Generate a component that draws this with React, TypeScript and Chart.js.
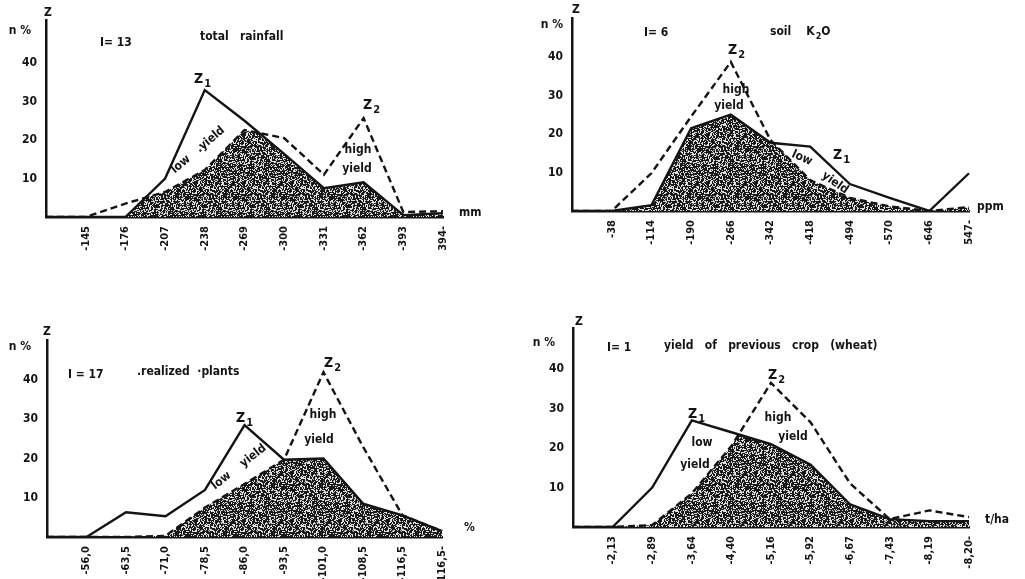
import React, { useEffect, useRef } from 'react';
import { Chart, registerables } from 'chart.js';
Chart.register(...registerables);

// ---------- Data ----------
const yTicks = [10, 20, 30, 40];

// Panel 1: total rainfall (mm)
const rainLabels = ['', '-145', '-176', '-207', '-238', '-269', '-300', '-331', '-362', '-393', '394-'];
const rainLowYield = [0, 0, 0, 10, 33, 25, 16.4, 7.5, 9, 0.5, 1];
const rainHighYield = [0, 0, 3.5, 6.5, 12.2, 22.6, 20.5, 11, 25.7, 1.3, 1.5];

// Panel 2: soil K2O (ppm)
const k2oLabels = ['', '-38', '-114', '-190', '-266', '-342', '-418', '-494', '-570', '-646', '547-'];
const k2oLowYield = [0, 0, 1.5, 21.5, 25, 17.7, 16.7, 7, 3.4, 0, 9.8];
const k2oHighYield = [0, 0, 9.8, 24.5, 38.7, 18.4, 8, 3.4, 1.2, 0, 1];

// Panel 3: realized plants (%)
const plantLabels = ['', '-56,0', '-63,5', '-71,0', '-78,5', '-86,0', '-93,5', '-101,0', '-108,5', '-116,5', '116,5-'];
const plantLowYield = [0, 0, 6.3, 5.3, 12, 28.5, 19.7, 20, 8.5, 5.5, 1.5];
const plantHighYield = [0, 0, 0, 0.3, 7.5, 13.5, 19.7, 42, 23, 5.5, 1.5];

// Panel 4: yield of previous crop (wheat) (t/ha)
const wheatLabels = ['', '-2,13', '-2,89', '-3,64', '-4,40', '-5,16', '-5,92', '-6,67', '-7,43', '-8,19', '-8,20-'];
const wheatLowYield = [0, 0, 10, 27, 24, 21, 15.8, 5.7, 2, 1.5, 1.5];
const wheatHighYield = [0, 0, 0.5, 8.5, 20.5, 36.5, 26.5, 11, 2, 4.2, 2.5];

// ---------- Styling / layout ----------
const FONT = '"DejaVu Sans Condensed", "DejaVu Sans", sans-serif';
const INK = '#141414';

type Txt = { t: string; x: number; y: number; sub?: string; rest?: string; rot?: number; align?: 'left' | 'center'; size?: number };
type Panel = {
  left: number; top: number; w: number; h: number;
  area: { left: number; top: number; right: number; bottom: number };
  yMax: number;
  labels: string[]; z1: number[]; z2: number[];
  texts: Txt[];
};

const panels: Panel[] = [
  {
    left: 0, top: 0, w: 512, h: 290,
    area: { left: 46, top: 20, right: 443, bottom: 217 }, yMax: 51.2,
    labels: rainLabels, z1: rainLowYield, z2: rainHighYield,
    texts: [
      { t: 'n %', x: 20, y: 31, align: 'center', size: 12 },
      { t: 'Z', x: 48, y: 13, align: 'center', size: 12 },
      { t: 'I= 13', x: 100, y: 43, size: 12 },
      { t: 'total   rainfall', x: 200, y: 37, size: 12 },
      { t: 'Z', sub: '1', x: 194, y: 79, size: 14 },
      { t: 'Z', sub: '2', x: 363, y: 105, size: 14 },
      { t: 'low   .yield', x: 198, y: 150, rot: -40, align: 'center', size: 12 },
      { t: 'high', x: 358, y: 150, align: 'center', size: 12 },
      { t: 'yield', x: 357, y: 169, align: 'center', size: 12 },
      { t: 'mm', x: 459, y: 213, size: 12 },
    ],
  },
  {
    left: 512, top: 0, w: 513, h: 290,
    area: { left: 60, top: 18, right: 457, bottom: 211 }, yMax: 50.1,
    labels: k2oLabels, z1: k2oLowYield, z2: k2oHighYield,
    texts: [
      { t: 'n %', x: 40, y: 25, align: 'center', size: 12 },
      { t: 'Z', x: 64, y: 10, align: 'center', size: 12 },
      { t: 'I= 6', x: 132, y: 33, size: 12 },
      { t: 'soil    K', sub: '2', rest: 'O', x: 258, y: 32, size: 12 },
      { t: 'Z', sub: '2', x: 216, y: 50, size: 14 },
      { t: 'high', x: 224, y: 90, align: 'center', size: 12 },
      { t: 'yield', x: 217, y: 106, align: 'center', size: 12 },
      { t: 'Z', sub: '1', x: 321, y: 155, size: 14 },
      { t: 'low', x: 290, y: 158, rot: 25, align: 'center', size: 12 },
      { t: 'yield', x: 323, y: 183, rot: 35, align: 'center', size: 12 },
      { t: 'ppm', x: 465, y: 207, size: 12 },
    ],
  },
  {
    left: 0, top: 290, w: 512, h: 289,
    area: { left: 47, top: 50, right: 442, bottom: 247 }, yMax: 50.2,
    labels: plantLabels, z1: plantLowYield, z2: plantHighYield,
    texts: [
      { t: 'n %', x: 20, y: 57, align: 'center', size: 12 },
      { t: 'Z', x: 47, y: 42, align: 'center', size: 12 },
      { t: 'I = 17', x: 68, y: 85, size: 12 },
      { t: '.realized  ·plants', x: 137, y: 82, size: 12 },
      { t: 'Z', sub: '1', x: 236, y: 128, size: 14 },
      { t: 'Z', sub: '2', x: 324, y: 73, size: 14 },
      { t: 'high', x: 323, y: 125, align: 'center', size: 12 },
      { t: 'yield', x: 319, y: 150, align: 'center', size: 12 },
      { t: 'low    yield', x: 239, y: 177, rot: -38, align: 'center', size: 12 },
      { t: '%', x: 464, y: 238, size: 12 },
    ],
  },
  {
    left: 512, top: 290, w: 513, h: 289,
    area: { left: 61, top: 38, right: 457, bottom: 237 }, yMax: 50.4,
    labels: wheatLabels, z1: wheatLowYield, z2: wheatHighYield,
    texts: [
      { t: 'n %', x: 32, y: 53, align: 'center', size: 12 },
      { t: 'Z', x: 67, y: 32, align: 'center', size: 12 },
      { t: 'I= 1', x: 95, y: 58, size: 12 },
      { t: 'yield   of   previous   crop   (wheat)', x: 152, y: 56, size: 12 },
      { t: 'Z', sub: '1', x: 176, y: 124, size: 14 },
      { t: 'Z', sub: '2', x: 256, y: 85, size: 14 },
      { t: 'high', x: 266, y: 128, align: 'center', size: 12 },
      { t: 'yield', x: 281, y: 147, align: 'center', size: 12 },
      { t: 'low', x: 190, y: 153, align: 'center', size: 12 },
      { t: 'yield', x: 183, y: 175, align: 'center', size: 12 },
      { t: 't/ha', x: 473, y: 230, size: 12 },
    ],
  },
];

// ---------- Helpers ----------
function makeStipple(ctx: CanvasRenderingContext2D): CanvasPattern | string {
  const N = 48;
  const c = document.createElement('canvas');
  c.width = N; c.height = N;
  const g = c.getContext('2d');
  if (!g) return '#333';
  const img = g.createImageData(N, N);
  for (let j = 0; j < N; j++) {
    for (let i = 0; i < N; i++) {
      let h = Math.imul(i + 1, 374761393) ^ Math.imul(j + 7, 668265263);
      h = Math.imul(h ^ (h >>> 13), 1274126177);
      h = (h ^ (h >>> 16)) >>> 0;
      const light = (h % 100) < 34;
      const v = light ? 225 : 25;
      const k = (j * N + i) * 4;
      img.data[k] = v; img.data[k + 1] = v; img.data[k + 2] = v; img.data[k + 3] = 255;
    }
  }
  g.putImageData(img, 0, 0);
  return ctx.createPattern(c, 'repeat') || '#333';
}

function drawTexts(ctx: CanvasRenderingContext2D, items: Txt[]) {
  ctx.save();
  ctx.fillStyle = INK;
  ctx.textBaseline = 'middle';
  ctx.textAlign = 'left';
  for (const it of items) {
    const size = it.size ?? 11;
    const main = `bold ${size}px ${FONT}`;
    const small = `bold ${Math.round(size * 0.75)}px ${FONT}`;
    ctx.save();
    ctx.translate(it.x, it.y);
    if (it.rot) ctx.rotate((it.rot * Math.PI) / 180);
    ctx.font = main;
    const w1 = ctx.measureText(it.t).width;
    let ws = 0, wr = 0;
    if (it.sub) { ctx.font = small; ws = ctx.measureText(it.sub).width + 1; }
    if (it.rest) { ctx.font = main; wr = ctx.measureText(it.rest).width; }
    const total = w1 + ws + wr;
    const x0 = it.align === 'center' ? -total / 2 : 0;
    ctx.font = main;
    ctx.fillText(it.t, x0, 0);
    if (it.sub) { ctx.font = small; ctx.fillText(it.sub, x0 + w1 + 1, size * 0.38); }
    if (it.rest) { ctx.font = main; ctx.fillText(it.rest, x0 + w1 + ws, 0); }
    ctx.restore();
  }
  ctx.restore();
}

function buildConfig(p: Panel): any {
  let pattern: CanvasPattern | string | null = null;
  const shade = {
    id: 'shade',
    beforeDatasetsDraw(chart: any) {
      const ctx: CanvasRenderingContext2D = chart.ctx;
      if (!pattern) pattern = makeStipple(ctx);
      const a = chart.getDatasetMeta(0).data;
      const b = chart.getDatasetMeta(1).data;
      const y0 = chart.scales.y.getPixelForValue(0);
      const poly = (pts: any[]) => {
        ctx.beginPath();
        ctx.moveTo(pts[0].x, y0);
        pts.forEach((q) => ctx.lineTo(q.x, q.y));
        ctx.lineTo(pts[pts.length - 1].x, y0);
        ctx.closePath();
      };
      ctx.save();
      poly(a);
      ctx.clip();
      poly(b);
      ctx.fillStyle = pattern as any;
      ctx.fill();
      ctx.restore();
    },
  };
  const text = {
    id: 'panelText',
    afterDraw(chart: any) { drawTexts(chart.ctx, p.texts); },
  };
  return {
    type: 'line',
    data: {
      labels: p.labels,
      datasets: [
        { data: p.z1, borderColor: INK, borderWidth: 2.4, pointRadius: 0, fill: false, tension: 0, borderJoinStyle: 'miter' },
        { data: p.z2, borderColor: INK, borderWidth: 2.4, borderDash: [7, 4], pointRadius: 0, fill: false, tension: 0 },
      ],
    },
    options: {
      responsive: false,
      animation: false,
      events: [],
      layout: { padding: { left: 0, top: p.area.top, right: p.w - p.area.right, bottom: 0 } },
      plugins: { legend: { display: false }, tooltip: { enabled: false } },
      scales: {
        x: {
          type: 'category',
          offset: false,
          grid: { display: false, drawTicks: false },
          border: { display: true, color: INK, width: 2.5 },
          ticks: {
            autoSkip: false, minRotation: 90, maxRotation: 90, padding: 9,
            color: INK, font: { family: FONT, size: 11, weight: 'bold' },
          },
          afterFit: (s: any) => { s.height = p.h - p.area.bottom; },
        },
        y: {
          min: 0, max: p.yMax,
          grid: { display: false, drawTicks: false },
          border: { display: true, color: INK, width: 2.5 },
          ticks: { padding: 9, color: INK, font: { family: FONT, size: 12, weight: 'bold' } },
          afterBuildTicks: (s: any) => { s.ticks = yTicks.map((v) => ({ value: v })); },
          afterFit: (s: any) => { s.width = p.area.left; },
        },
      },
    },
    plugins: [shade, text],
  };
}

function PanelChart({ p }: { p: Panel }) {
  const ref = useRef<HTMLCanvasElement | null>(null);
  useEffect(() => {
    if (!ref.current) return;
    const chart = new Chart(ref.current, buildConfig(p));
    return () => chart.destroy();
  }, [p]);
  return (
    <canvas
      ref={ref}
      width={p.w}
      height={p.h}
      style={{ position: 'absolute', left: p.left, top: p.top, width: p.w, height: p.h }}
    />
  );
}

export default function App() {
  return (
    <div style={{ position: 'absolute', left: 0, top: 0, width: 1025, height: 579, background: '#fff', overflow: 'hidden' }}>
      {panels.map((p, i) => <PanelChart key={i} p={p} />)}
    </div>
  );
}
